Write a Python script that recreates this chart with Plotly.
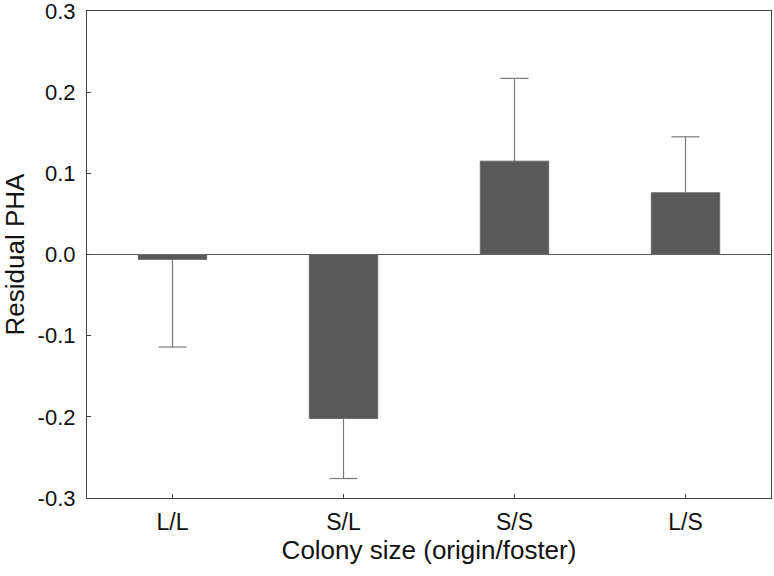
import plotly.graph_objects as go

categories = ["L/L", "S/L", "S/S", "L/S"]
values = [-0.006, -0.202, 0.115, 0.076]
errors = [0.108, 0.074, 0.102, 0.069]
y_ticks = [-0.3, -0.2, -0.1, 0.0, 0.1, 0.2, 0.3]

BAR = "#595959"
ERR = "#7a7a7a"
AX = "#444444"
FONT = "Liberation Sans, Arial, sans-serif"

# tips of one-sided error bars (away from zero)
tips = [v + e if v > 0 else v - e for v, e in zip(values, errors)]
up = [0 if v > 0 else e for v, e in zip(values, errors)]
down = [e if v > 0 else 0 for v, e in zip(values, errors)]

fig = go.Figure()
fig.add_trace(go.Bar(
    x=categories, y=values,
    marker=dict(color=BAR, line=dict(color="#6a6a6a", width=1)),
    width=0.4, showlegend=False,
))
fig.add_trace(go.Scatter(
    x=categories, y=tips, mode="markers",
    marker=dict(symbol="line-ew-open", size=20, color=ERR,
                line=dict(color=ERR, width=1.2)),
    error_y=dict(type="data", symmetric=False, array=up, arrayminus=down,
                 width=0, color=ERR, thickness=1.2),
    showlegend=False, cliponaxis=False,
))

fig.update_layout(
    width=774, height=576,
    margin=dict(l=87, r=3, t=11, b=78),
    paper_bgcolor="white", plot_bgcolor="white",
    font=dict(family=FONT, size=22, color="#111111"),
    xaxis=dict(
        range=[-0.5, 3.5], showline=True, linecolor=AX, linewidth=1.2,
        mirror=True, ticks="inside", ticklen=4, tickcolor=AX, automargin=False,
        tickfont=dict(size=23), ticklabelstandoff=3,
        title=dict(text="Colony size (origin/foster)", font=dict(size=26), standoff=4),
    ),
    yaxis=dict(
        range=[-0.3, 0.3], tickvals=y_ticks,
        ticktext=[f"{t:.1f}" for t in y_ticks],
        showline=True, linecolor=AX, linewidth=1.2, mirror=True, automargin=False,
        ticks="inside", ticklen=4, tickcolor=AX, showgrid=False,
        zeroline=True, zerolinecolor="#555555", zerolinewidth=1.2,
        tickfont=dict(size=22), ticklabelstandoff=6, ticklabeloverflow="allow",
        title=dict(text="Residual PHA", font=dict(size=26), standoff=9),
    ),
)

fig.write_html("out.html", config={"displayModeBar": False},
               post_script="document.body.style.margin='0';document.body.style.overflow='hidden';")
